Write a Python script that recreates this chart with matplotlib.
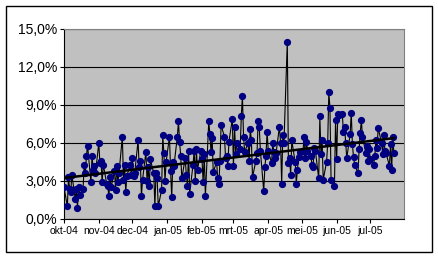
import numpy as np
import pandas as pd
import matplotlib
matplotlib.use('Agg')
import matplotlib.pyplot as plt
import matplotlib.dates as mdates
from matplotlib.patches import Rectangle
from matplotlib.ticker import FuncFormatter

# business-day values in %
okt = [2.5, 1.0, 3.3, 2.4, 2.1, 3.5, 1.6, 2.4, 0.9, 2.5, 1.9, 2.4, 4.3, 3.6, 5.0,
       5.8, 2.9, 5.0, 3.9, 4.2, 3.6]
nov = [6.0, 4.4, 4.6, 2.9, 4.3, 2.8, 2.6, 1.8, 3.3, 2.5, 3.8, 2.3, 4.2, 2.9, 3.6,
       6.5, 3.1, 4.3, 2.1, 3.4, 4.3, 3.5]
dec = [4.8, 3.4, 3.6, 6.2, 4.1, 4.6, 1.8, 3.1, 5.3, 3.0, 4.1, 2.6, 4.7, 3.6, 1.0,
       3.6, 3.2, 1.0, 2.3, 6.6, 5.2, 3.0, 4.5]
jan = [6.5, 3.8, 1.7, 4.5, 4.2, 6.5, 7.7, 6.1, 5.0, 3.2, 4.8, 3.5, 2.6, 5.4, 2.0,
       4.3, 5.4, 3.0, 5.5, 3.9, 5.4]
feb = [4.7, 2.9, 5.1, 1.8, 7.7, 6.7, 5.3, 6.4, 3.7, 4.5, 3.2, 2.8, 4.6, 7.4, 6.5,
       4.8, 5.0, 4.2, 6.1, 7.9]
mrt = [4.2, 7.3, 5.1, 6.0, 5.5, 8.1, 9.7, 6.5, 5.3, 6.0, 4.6, 7.1, 6.2, 3.3, 4.6,
       5.2, 7.7, 7.3, 5.4, 2.2, 4.1, 5.0, 6.9]
apr = [5.4, 4.4, 6.0, 5.3, 4.8, 5.2, 7.3, 6.0, 2.8, 6.6, 6.0, 14.0, 4.4, 4.8, 3.5,
       6.2, 4.5, 2.8, 3.9, 4.9, 5.3]
mei = [5.4, 6.5, 4.8, 6.1, 5.4, 5.0, 4.3, 4.1, 5.6, 5.4, 3.2, 8.1, 5.1, 6.2, 3.1,
       4.5, 6.0, 10.0, 8.8, 3.1, 2.6, 7.8]
jun = [4.7, 8.3, 8.2, 8.3, 6.9, 7.3, 6.0, 4.8, 6.7, 8.4, 5.9, 4.9, 4.3, 3.6, 5.5,
       6.8, 7.8, 6.5, 5.2, 5.8, 4.6, 5.5]
jul = [4.7, 4.3, 5.0, 6.2, 5.6, 7.2, 6.0, 5.1, 6.6, 5.4, 5.2, 4.2, 5.9, 3.9, 6.5,
       5.2]

values = np.array(okt + nov + dec + jan + feb + mrt + apr + mei + jun + jul) / 100
dates = pd.bdate_range('2004-10-01', periods=len(values))

month_labels = ['okt-04', 'nov-04', 'dec-04', 'jan-05', 'feb-05', 'mrt-05',
                'apr-05', 'mei-05', 'jun-05', 'jul-05']
month_starts = pd.date_range('2004-10-01', periods=len(month_labels), freq='MS')

plt.rcParams['font.family'] = ['Liberation Sans', 'DejaVu Sans']

fig = plt.figure(figsize=(4.38, 2.58), dpi=100)
fig.patch.set_facecolor('white')
# chart area border
fig.patches.append(Rectangle((6 / 438, 6 / 258), 426 / 438, 246 / 258,
                             transform=fig.transFigure, fill=False,
                             edgecolor='black', linewidth=1))

ax = fig.add_axes([64 / 438, 39 / 258, 340 / 438, 190 / 258])
ax.set_facecolor('#C0C0C0')

ax.plot(dates, values, color='black', linewidth=0.8, marker='o',
        markersize=4.2, markerfacecolor='#000080', markeredgecolor='#000080',
        zorder=3)

# linear trend line
xnum = mdates.date2num(dates)
k, b = np.polyfit(xnum, values, 1)
ax.plot(dates, k * xnum + b, color='black', linewidth=1.8, zorder=4)

ax.set_ylim(0, 0.15)
ax.set_yticks(np.arange(0, 0.151, 0.03))
ax.yaxis.set_major_formatter(FuncFormatter(lambda v, p: f'{v * 100:.1f}%'.replace('.', ',')))
ax.grid(axis='y', color='black', linewidth=0.8)
ax.set_axisbelow(True)

ax.set_xlim(pd.Timestamp('2004-10-01'), pd.Timestamp('2005-07-31'))
ax.set_xticks(month_starts)
ax.set_xticklabels(month_labels)

for side in ['top', 'right']:
    ax.spines[side].set_color('#808080')
for side in ['left', 'bottom']:
    ax.spines[side].set_color('black')
ax.tick_params(axis='y', labelsize=10, length=3, pad=2)
ax.tick_params(axis='x', labelsize=7.5, length=3, pad=2)

fig.savefig('out.png', dpi=100)
